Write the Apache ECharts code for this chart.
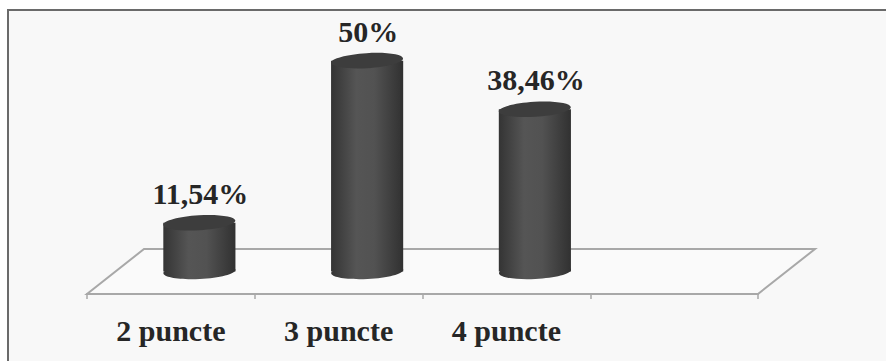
<!DOCTYPE html>
<html>
<head>
<meta charset="utf-8">
<script src="https://cdn.jsdelivr.net/npm/echarts@6/dist/echarts.min.js"></script>
<style>
html,body{margin:0;padding:0;background:#fff;}
#c{width:886px;height:361px;}
</style>
</head>
<body>
<div id="c"></div>
<script>
var categories = ['2 puncte', '3 puncte', '4 puncte', ''];
var values = [11.54, 50, 38.46];

var FONT = '"Liberation Serif", "Times New Roman", serif';
var DEPTH_DX = 57, DEPTH_DY = -45;

function fmt(v) { return String(v).replace('.', ',') + '%'; }

var chart = echarts.init(document.getElementById('c'), null, { renderer: 'svg' });

function renderFloor(params, api) {
  var bw = api.size([1, 0])[0];
  var p0 = api.coord([0, 0]);
  var p3 = api.coord([categories.length - 1, 0]);
  var left = p0[0] - bw / 2, right = p3[0] + bw / 2, y = p0[1];
  return {
    type: 'polygon',
    shape: { points: [[left, y], [right, y], [right + DEPTH_DX, y + DEPTH_DY], [left + DEPTH_DX, y + DEPTH_DY]] },
    style: { fill: '#fafafa', stroke: '#a8a8a8', lineWidth: 2 }
  };
}

function renderBar(params, api) {
  var i = api.value(0), v = api.value(1);
  var bw = api.size([1, 0])[0];
  var base = api.coord([i, 0]);
  var top = api.coord([i, v]);
  var cx = base[0] + DEPTH_DX / 2;
  var by = base[1] + DEPTH_DY / 2;
  var ty = top[1] + DEPTH_DY / 2;
  var rx = bw * 0.215, ry = 7.5;
  var side = new echarts.graphic.LinearGradient(0, 0, 1, 0, [
    { offset: 0, color: '#343434' },
    { offset: 0.35, color: '#555555' },
    { offset: 0.6, color: '#525252' },
    { offset: 1, color: '#313131' }
  ]);
  return {
    type: 'group',
    children: [
      { type: 'ellipse', shape: { cx: cx, cy: by, rx: rx, ry: ry }, rotation: 0.05, originX: cx, originY: by,
        style: { fill: side } },
      { type: 'rect', shape: { x: cx - rx, y: ty, width: rx * 2, height: by - ty },
        style: { fill: side } },
      { type: 'ellipse', shape: { cx: cx, cy: ty, rx: rx, ry: ry }, rotation: 0.06, originX: cx, originY: ty,
        style: { fill: '#3d3d3d' } },
      { type: 'text', x: cx + 1, y: ty - ry - 7,
        style: { text: fmt(v), fill: '#262626', font: 'bold 30px ' + FONT, align: 'center', verticalAlign: 'bottom' } }
    ]
  };
}

var option = {
  backgroundColor: '#ffffff',
  animation: false,
  graphic: {
    elements: [{
      type: 'rect', z: -100, silent: true,
      shape: { x: 8, y: 10, width: 900, height: 400 },
      style: { fill: '#f8f8f8', stroke: '#6a6a6a', lineWidth: 2 }
    }]
  },
  grid: { left: 87, right: 128, bottom: 67, top: 41 },
  xAxis: {
    type: 'category',
    data: categories,
    boundaryGap: true,
    axisLine: { show: true, lineStyle: { color: '#a8a8a8', width: 2 } },
    axisTick: { show: true, length: 5, lineStyle: { color: '#a8a8a8', width: 1.5 } },
    axisLabel: { margin: 21, color: '#262626', fontFamily: FONT, fontWeight: 'bold', fontSize: 30 },
    splitLine: { show: false }
  },
  yAxis: { type: 'value', min: 0, max: 60, show: false, splitLine: { show: false } },
  series: [
    { type: 'custom', z: 1, renderItem: renderFloor, data: [[0, 0]], silent: true },
    { type: 'custom', z: 5, renderItem: renderBar,
      data: values.map(function (v, i) { return [i, v]; }) }
  ]
};
chart.setOption(option);
</script>
</body>
</html>
